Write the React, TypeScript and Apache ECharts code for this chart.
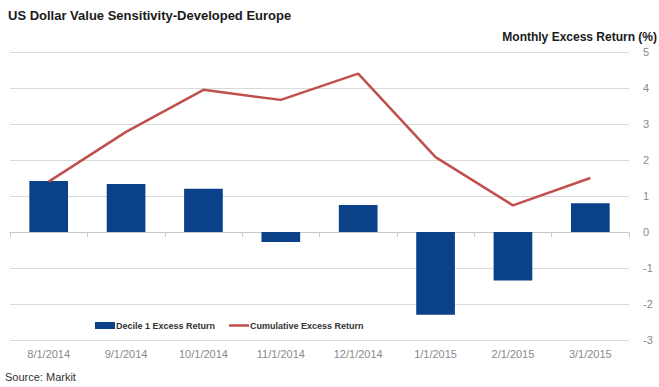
import React, { useEffect, useRef } from "react";
import * as echarts from "echarts";

const categories = ["8/1/2014", "9/1/2014", "10/1/2014", "11/1/2014", "12/1/2014", "1/1/2015", "2/1/2015", "3/1/2015"];
const decileExcess = [1.42, 1.33, 1.2, -0.28, 0.75, -2.3, -1.35, 0.8];
const cumulativeExcess = [1.4, 2.78, 3.95, 3.67, 4.4, 2.08, 0.74, 1.5];

const FONT = "'Liberation Sans', Arial, sans-serif";

export default function App() {
  const ref = useRef<HTMLDivElement>(null);
  useEffect(() => {
    if (!ref.current) return;
    const chart = echarts.init(ref.current, undefined, { renderer: "svg" });
    chart.setOption({
      animation: false,
      backgroundColor: "#ffffff",
      textStyle: { fontFamily: FONT },
      grid: { left: 10, right: 30, top: 52, bottom: 47, containLabel: false },
      legend: {
        left: 95,
        top: 321,
        padding: 0,
        itemWidth: 20,
        itemHeight: 7,
        itemGap: 14,
        textStyle: { fontFamily: FONT, fontWeight: "bold", fontSize: 9, color: "#333333", padding: [0, 0, 0, -4] },
        data: [
          { name: "Decile 1 Excess Return", icon: "rect" },
          {
            name: "Cumulative Excess Return",
            icon: "path://M0,0h20v0.05h-20z M0,2.3h20v2.4h-20z M0,6.95h20v0.05h-20z",
            itemStyle: { color: "#c0504d" },
          },
        ],
      },
      xAxis: [
        {
          type: "category",
          data: categories,
          axisLine: { onZero: true, lineStyle: { color: "#c8c8c8", width: 1 } },
          axisTick: { show: true, length: 5, lineStyle: { color: "#c8c8c8" } },
          axisLabel: { show: false },
        },
        {
          type: "category",
          data: categories,
          position: "bottom",
          axisLine: { show: false },
          axisTick: { show: false },
          axisLabel: { show: true, color: "#8a8a8a", fontSize: 11, fontFamily: FONT, margin: 8 },
        },
      ],
      yAxis: {
        type: "value",
        position: "right",
        min: -3,
        max: 5,
        interval: 1,
        axisLine: { show: false },
        axisTick: { show: false },
        axisLabel: { color: "#8a8a8a", fontSize: 11, fontFamily: FONT, margin: 14 },
        splitLine: { lineStyle: { color: "#d9d9d9", width: 1 } },
      },
      series: [
        {
          name: "Decile 1 Excess Return",
          type: "bar",
          data: decileExcess,
          barWidth: "50%",
          itemStyle: { color: "#0a4189" },
        },
        {
          name: "Cumulative Excess Return",
          type: "line",
          data: cumulativeExcess,
          symbol: "none",
          lineStyle: { color: "#c0504d", width: 2.5 },
          itemStyle: { color: "#c0504d" },
        },
      ],
      graphic: [
        {
          type: "text",
          left: 8,
          top: 9,
          style: { text: "US Dollar Value Sensitivity-Developed Europe", font: `bold 13px ${FONT}`, fill: "#1a1a1a" },
        },
        {
          type: "text",
          right: 2,
          top: 31,
          style: { text: "Monthly Excess Return (%)", font: `bold 12px ${FONT}`, fill: "#1a1a1a" },
        },
        {
          type: "text",
          left: 5,
          top: 371,
          style: { text: "Source: Markit", font: `11px ${FONT}`, fill: "#333333" },
        },
      ],
    });
    return () => chart.dispose();
  }, []);
  return <div ref={ref} style={{ width: 659, height: 387, position: "absolute", left: 0, top: 0 }} />;
}
